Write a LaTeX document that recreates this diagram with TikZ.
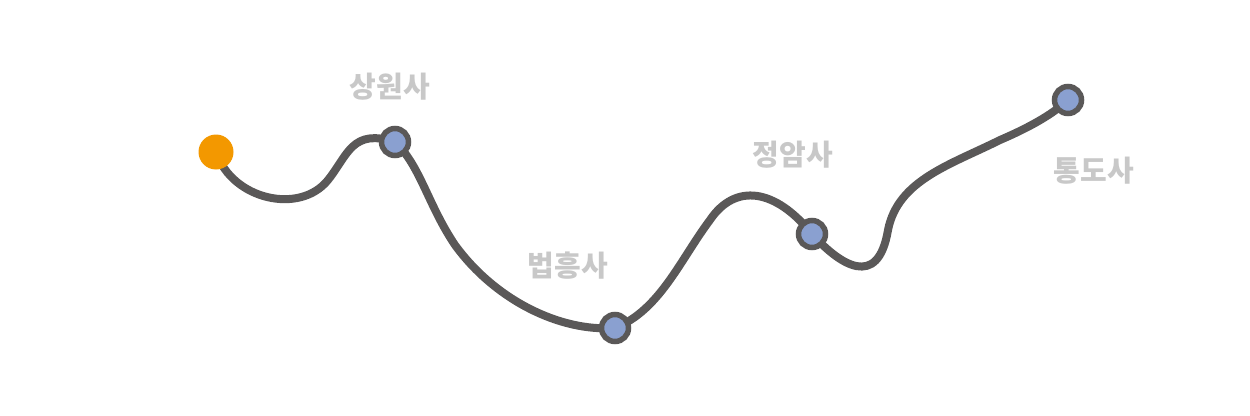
\documentclass[tikz,border=0pt]{standalone}
\usepackage{fontspec}
\newfontfamily\kr{Noto Sans CJK KR}
\definecolor{pathgray}{RGB}{90,88,88}
\definecolor{stopblue}{RGB}{138,160,208}
\definecolor{startorange}{RGB}{243,152,0}
\definecolor{labelgray}{RGB}{200,200,200}
\tikzset{
  stop/.style={circle, draw=pathgray, line width=5.5pt, fill=stopblue, minimum size=27pt, inner sep=0pt},
  start/.style={circle, fill=startorange, minimum size=35pt, inner sep=0pt},
  label text/.style={font=\kr\bfseries\fontsize{29}{34}\selectfont, text=labelgray, inner sep=0pt},
  route/.style={draw=pathgray, line width=8pt, line cap=round}
}
\begin{document}
\begin{tikzpicture}[x=1pt,y=-1pt]
\useasboundingbox (0,0) rectangle (1250,415);
\coordinate (s) at (216,152);
\coordinate (a) at (395,142);
\coordinate (b) at (615,328);
\coordinate (c) at (812,234);
\coordinate (d) at (1068,100);
\path[route] (s) .. controls (232,200) and (300,215) .. (328,180)
  .. controls (348,155) and (352,128) .. (a)
  .. controls (420,165) and (428,205) .. (455,245)
  .. controls (495,300) and (560,332) .. (b)
  .. controls (660,310) and (680,260) .. (710,220)
  .. controls (735,183) and (775,188) .. (c)
  .. controls (840,265) and (878,290) .. (888,230)
  .. controls (898,180) and (950,165) .. (1000,140)
  .. controls (1035,125) and (1055,112) .. (d);
\node[start] (n0) at (s) {};
\node[stop] (n1) at (a) {};
\node[stop] (n2) at (b) {};
\node[stop] (n3) at (c) {};
\node[stop] (n4) at (d) {};
\node[label text] (l1) at (390,87) {상원사};
\node[label text] (l2) at (568,266) {법흥사};
\node[label text] (l3) at (793,155) {정암사};
\node[label text] (l4) at (1094,171) {통도사};
\end{tikzpicture}
\end{document}
